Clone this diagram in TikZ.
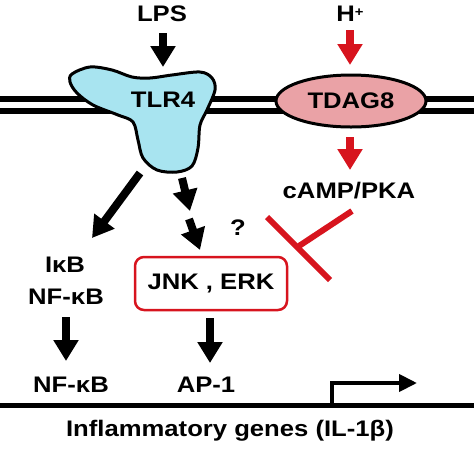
\documentclass[tikz,border=0pt]{standalone}
\usepackage{fontspec}
\setmainfont[FakeStretch=1.14]{Liberation Sans}
\usetikzlibrary{arrows.meta,shapes.geometric}
\definecolor{tlrcyan}{RGB}{168,228,240}
\definecolor{tdagpink}{RGB}{234,162,166}
\definecolor{sigred}{RGB}{215,20,30}
\tikzset{
  lbl/.style={font=\fontsize{22.5}{26}\selectfont\bfseries, inner sep=0pt},
  bigarrow/.style={line width=8pt, -{Triangle[width=24pt,length=21pt]}},
  redarrow/.style={bigarrow, draw=sigred, color=sigred},
  membrane/.style={line width=5.5pt},
}
\begin{document}
\begin{tikzpicture}[x=1pt,y=-1pt]
\useasboundingbox (0,0) rectangle (474,448);
% membrane
\draw[membrane] (0,99) -- (474,99);
\draw[membrane] (0,111) -- (474,111);
% TLR4 blob
\draw[line width=3pt, fill=tlrcyan] plot[smooth cycle, tension=0.55] coordinates {
  (72,74) (90,67) (112,70) (132,77) (150,78) (172,75) (200,72) (212,78) (215,90)
  (207,110) (200,125) (198,148) (192,166) (177,172) (157,170) (143,158) (138,140)
  (133,122) (118,115) (93,105) (77,93) (70,82)};
\node[lbl] (tlr4) at (163,100) {TLR4};
% TDAG8
\node[draw, line width=3pt, fill=tdagpink, ellipse, minimum width=150pt, minimum height=52pt, inner sep=0pt] (tdag8) at (351,101) {};
\node[lbl] (tdag8lbl) at (351,101) {TDAG8};
% top inputs
\node[lbl] (lps) at (162,14) {LPS};
\node[lbl] (hplus) at (350,14) {H\raisebox{0.45ex}{\fontsize{13}{14}\selectfont +}};
\coordinate (lpsA) at (163,33);
\coordinate (lpsB) at (163,67);
\draw[bigarrow] (lpsA) -- (lpsB);
\coordinate (hA) at (350,30);
\coordinate (hB) at (350,65);
\draw[redarrow] (hA) -- (hB);
% TDAG8 -> cAMP/PKA
\coordinate (tA) at (350,137);
\coordinate (tB) at (350,170);
\draw[redarrow] (tA) -- (tB);
\node[lbl] (camp) at (349,191) {cAMP/PKA};
% TLR4 -> IkB
\coordinate (iA) at (140,173);
\coordinate (iB) at (92,238);
\draw[bigarrow] (iA) -- (iB);
% TLR4 -> JNK (two steps)
\coordinate (j1A) at (182,178);
\coordinate (j1B) at (190,211);
\draw[bigarrow] (j1A) -- (j1B);
\coordinate (j2A) at (189,219);
\coordinate (j2B) at (200,250);
\draw[bigarrow] (j2A) -- (j2B);
\node[lbl] (q) at (238,228) {?};
% inhibition
\coordinate (inA) at (352,211);
\coordinate (inB) at (299,246);
\coordinate (barA) at (267,217);
\coordinate (barB) at (330,280);
\draw[line width=6pt, sigred] (inA) -- (inB);
\draw[line width=6pt, sigred] (barA) -- (barB);
% JNK, ERK box
\node[draw=sigred, line width=2.5pt, rounded corners=9pt, minimum width=152pt, minimum height=53pt, lbl] (jnk) at (211,283.5) {JNK , ERK};
% NF-kB branch
\node[lbl] (ikb) at (65,265) {IκB};
\node[lbl] (nfkb1) at (66,297) {NF-κB};
\coordinate (nA) at (66,317);
\coordinate (nB) at (66,361);
\draw[bigarrow] (nA) -- (nB);
\node[lbl] (nfkb2) at (71,385) {NF-κB};
% AP-1 branch
\coordinate (aA) at (210,318);
\coordinate (aB) at (210,363);
\draw[bigarrow] (aA) -- (aB);
\node[lbl] (ap1) at (206,385) {AP-1};
% gene
\coordinate (gA) at (0,405);
\coordinate (gB) at (474,405);
\draw[line width=5pt] (gA) -- (gB);
\coordinate (pA) at (332,407);
\coordinate (pB) at (332,383);
\coordinate (pC) at (417,383);
\draw[line width=4pt, -{Triangle[width=17pt,length=18pt]}] (pA) -- (pB) -- (pC);
\node[lbl] (genes) at (230,431) {Inflammatory genes (IL-1β)};
\end{tikzpicture}
\end{document}
